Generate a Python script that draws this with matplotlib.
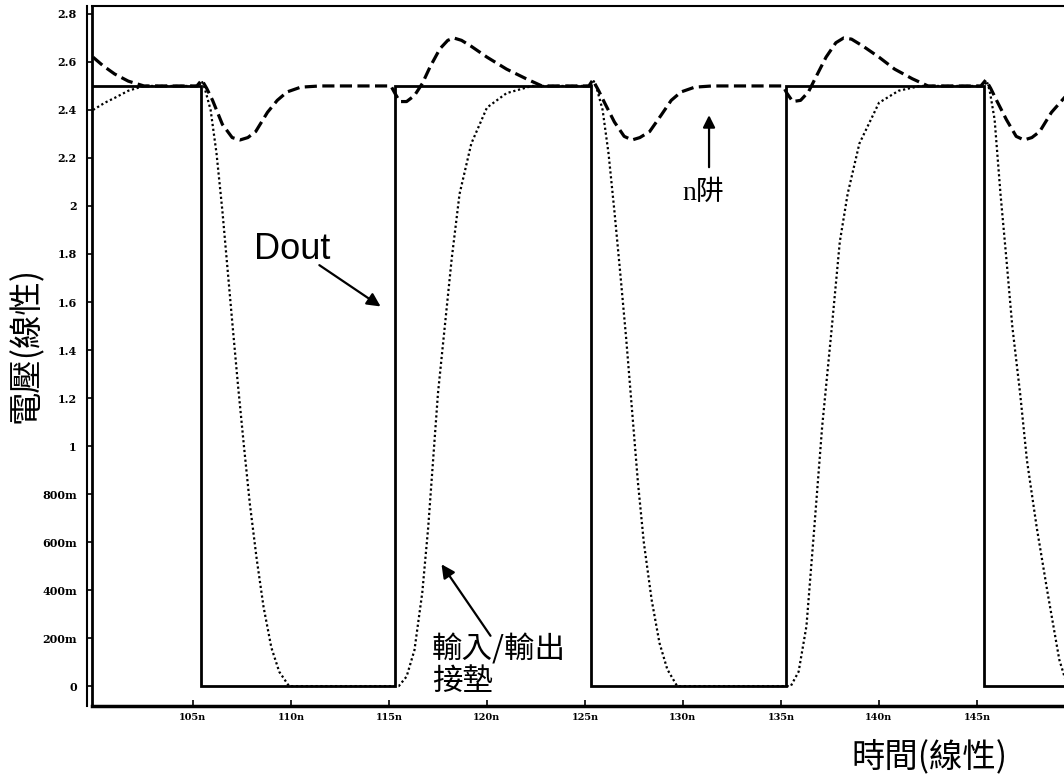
import matplotlib
matplotlib.use("Agg")
import matplotlib.pyplot as plt
from matplotlib.lines import Line2D

# Dout (solid square wave)
dout_t = [99.85, 105.4, 105.4, 115.3, 115.3, 125.3, 125.3, 135.25, 135.25, 145.35, 145.35, 149.5]
dout_v = [2.5, 2.5, 0.0, 0.0, 2.5, 2.5, 0.0, 0.0, 2.5, 2.5, 0.0, 0.0]

# n-well (dashed)
nwell_t = [99.9, 100.4, 101.0, 101.7, 102.5, 105.2, 105.45, 105.7, 106.0, 106.5,
           107.0, 107.4, 107.8, 108.2, 108.8, 109.3, 109.8, 110.5, 111.5, 115.1,
           115.3, 115.55, 115.9, 116.3, 116.7, 117.1, 117.6, 118.0, 118.3, 118.7,
           119.2, 120.0, 121.0, 122.0, 122.8, 125.2, 125.4, 125.7, 126.0, 126.5,
           127.0, 127.4, 127.8, 128.3, 128.9, 129.4, 129.9, 130.6, 131.5, 135.1,
           135.3, 135.6, 136.0, 136.4, 136.8, 137.3, 137.8, 138.2, 138.6, 139.2,
           140.0, 140.8, 141.7, 142.5, 145.2, 145.45, 145.7, 146.0, 146.5, 147.0,
           147.4, 147.8, 148.2, 148.8, 149.5]
nwell_v = [2.62, 2.585, 2.55, 2.52, 2.50, 2.50, 2.525, 2.49, 2.44, 2.34,
           2.285, 2.275, 2.285, 2.31, 2.39, 2.44, 2.475, 2.495, 2.50, 2.50,
           2.47, 2.435, 2.435, 2.46, 2.51, 2.58, 2.655, 2.69, 2.70, 2.69,
           2.665, 2.62, 2.57, 2.53, 2.50, 2.50, 2.525, 2.48, 2.43, 2.35,
           2.29, 2.275, 2.285, 2.31, 2.38, 2.44, 2.475, 2.495, 2.50, 2.50,
           2.47, 2.435, 2.44, 2.475, 2.54, 2.62, 2.68, 2.70, 2.695, 2.665,
           2.62, 2.57, 2.53, 2.50, 2.50, 2.525, 2.49, 2.44, 2.36, 2.29,
           2.275, 2.285, 2.31, 2.39, 2.455]

# I/O pad (dotted)
pad_t = [99.9, 100.5, 101.0, 101.7, 102.5, 105.3, 105.45, 105.6, 105.9, 106.2,
         106.5, 106.75, 107.0, 107.3, 107.6, 107.9, 108.25, 108.6, 109.0, 109.4,
         109.9, 115.5, 115.9, 116.3, 116.7, 117.0, 117.25, 117.5, 117.85, 118.2,
         118.6, 119.2, 120.0, 121.0, 122.3, 125.3, 125.45, 125.6, 125.9, 126.2,
         126.5, 126.8, 127.1, 127.4, 127.7, 128.0, 128.4, 128.8, 129.2, 129.7,
         135.5, 135.9, 136.3, 136.7, 137.1, 137.6, 138.0, 138.4, 139.0, 140.0,
         141.0, 142.1, 145.35, 145.5, 145.65, 145.9, 146.2, 146.5, 146.8, 147.2,
         147.55, 148.05, 148.6, 149.2, 149.5]
pad_v = [2.40, 2.43, 2.45, 2.48, 2.50, 2.50, 2.52, 2.49, 2.40, 2.22,
         1.98, 1.75, 1.52, 1.25, 1.0, 0.76, 0.53, 0.33, 0.16, 0.06,
         0.0, 0.0, 0.04, 0.15, 0.39, 0.66, 0.94, 1.22, 1.50, 1.78,
         2.05, 2.26, 2.41, 2.47, 2.50, 2.50, 2.52, 2.49, 2.40, 2.22,
         1.98, 1.72, 1.45, 1.15, 0.85, 0.6, 0.36, 0.18, 0.07, 0.0,
         0.0, 0.06, 0.25, 0.66, 1.08, 1.50, 1.85, 2.05, 2.26, 2.43,
         2.48, 2.50, 2.50, 2.52, 2.48, 2.36, 2.05, 1.78, 1.50, 1.22,
         0.94, 0.66, 0.39, 0.11, 0.03]

x_ticks = [105, 110, 115, 120, 125, 130, 135, 140, 145]
x_tick_labels = ["105n", "110n", "115n", "120n", "125n", "130n", "135n", "140n", "145n"]
y_ticks = [0, 0.2, 0.4, 0.6, 0.8, 1.0, 1.2, 1.4, 1.6, 1.8, 2.0, 2.2, 2.4, 2.6, 2.8]
y_tick_labels = ["0", "200m", "400m", "600m", "800m", "1", "1.2", "1.4", "1.6",
                 "1.8", "2", "2.2", "2.4", "2.6", "2.8"]

cjk = ["Noto Sans CJK TC", "DejaVu Sans"]

fig = plt.figure(figsize=(10.64, 7.81), dpi=100)
ax = fig.add_axes([0.0865, 0.096, 0.9135, 0.8963])

ax.plot(dout_t, dout_v, color="black", lw=2.0, solid_joinstyle="miter")
ax.plot(nwell_t, nwell_v, color="black", lw=2.3, linestyle=(0, (3.8, 1.7)))
ax.plot(pad_t, pad_v, color="black", lw=1.6, linestyle=(0, (1, 1.2)))

ax.set_xlim(99.85, 149.44)
ax.set_ylim(-0.083, 2.833)

ax.set_xticks(x_ticks)
ax.set_xticklabels(x_tick_labels, fontfamily="DejaVu Serif", fontweight="bold", fontsize=7)
ax.set_yticks(y_ticks)
ax.set_yticklabels(y_tick_labels, fontfamily="DejaVu Serif", fontweight="bold", fontsize=8)
ax.tick_params(axis="x", direction="in", length=4, width=1.2, pad=5)
ax.tick_params(axis="y", direction="out", length=4, width=1.2, pad=7)

ax.spines["right"].set_visible(False)
ax.spines["left"].set_linewidth(2.0)
ax.spines["bottom"].set_linewidth(2.5)
ax.spines["top"].set_linewidth(1.5)

# second (outer) line of the doubled left axis
fig.add_artist(Line2D([87 / 1064, 87 / 1064], [0.096, 0.992], transform=fig.transFigure,
                      color="black", lw=1.5))

# annotations
ax.annotate("", xy=(114.69, 1.575), xytext=(111.33, 1.76),
            arrowprops=dict(arrowstyle="-|>", lw=1.6, color="black", mutation_scale=20))
ax.text(108.1, 1.78, "Dout", fontsize=26, fontfamily="Liberation Sans", va="baseline")

ax.annotate("", xy=(131.33, 2.39), xytext=(131.33, 2.15),
            arrowprops=dict(arrowstyle="-|>", lw=1.6, color="black", mutation_scale=18))
ax.text(129.95, 2.025, "n阱", fontsize=20, fontfamily=["Liberation Serif", "Noto Sans CJK TC"],
        va="baseline")

ax.annotate("", xy=(117.6, 0.517), xytext=(120.26, 0.20),
            arrowprops=dict(arrowstyle="-|>", lw=1.6, color="black", mutation_scale=20))
ax.text(117.19, 0.215, "輸入/輸出\n接墊", fontsize=22, fontfamily=cjk, va="top",
        linespacing=1.0)

fig.text(930 / 1064, 1 - 757 / 781, "時間(線性)", fontsize=24, fontfamily=cjk,
         ha="center", va="center")
fig.text(26 / 1064, 1 - 345 / 781, "電壓(線性)", fontsize=24, fontfamily=cjk,
         ha="center", va="center", rotation=90)

fig.savefig("out.png", dpi=100)
